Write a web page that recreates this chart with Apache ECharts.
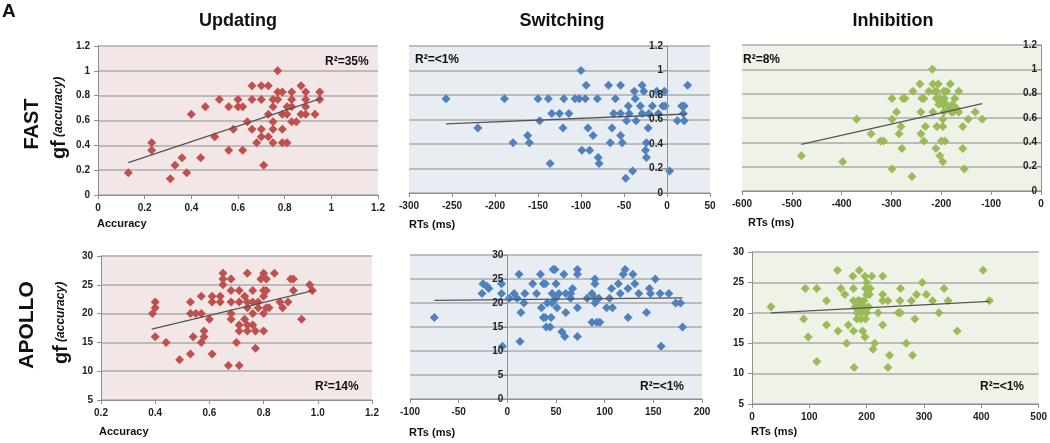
<!DOCTYPE html>
<html><head><meta charset="utf-8">
<script src="https://cdn.jsdelivr.net/npm/echarts@6/dist/echarts.min.js"></script>
<style>html,body{margin:0;padding:0;background:#fff}#c{width:1050px;height:443px}</style>
</head><body><div id="c"></div>
<script>
// ---- Data ----
const panelTitles = ['Updating', 'Switching', 'Inhibition'];
const rowLabels = ['FAST', 'APOLLO'];
const r2Labels = ['R²=35%', 'R²=<1%', 'R²=8%', 'R²=14%', 'R²=<1%', 'R²=<1%'];
const xNames = ['Accuracy', 'RTs (ms)', 'RTs (ms)', 'Accuracy', 'RTs (ms)', 'RTs (ms)'];

const updFast = [[0.13,0.18],[0.23,0.42],[0.23,0.36],[0.31,0.13],[0.33,0.24],[0.36,0.30],[0.38,0.18],[0.40,0.65],[0.44,0.30],[0.46,0.71],[0.50,0.47],[0.52,0.77],[0.56,0.71],[0.56,0.36],[0.58,0.53],[0.60,0.77],[0.60,0.71],[0.62,0.71],[0.62,0.36],[0.64,0.59],[0.66,0.88],[0.66,0.77],[0.66,0.53],[0.68,0.42],[0.70,0.88],[0.70,0.77],[0.70,0.53],[0.70,0.47],[0.71,0.24],[0.73,0.88],[0.73,0.65],[0.73,0.47],[0.75,0.71],[0.75,0.77],[0.75,0.59],[0.75,0.53],[0.75,0.42],[0.77,1.0],[0.77,0.83],[0.77,0.77],[0.79,0.83],[0.79,0.65],[0.79,0.53],[0.79,0.42],[0.81,0.71],[0.81,0.65],[0.81,0.42],[0.83,0.83],[0.83,0.77],[0.83,0.71],[0.83,0.59],[0.85,0.59],[0.87,0.88],[0.87,0.65],[0.89,0.83],[0.89,0.77],[0.89,0.71],[0.89,0.65],[0.93,0.65],[0.95,0.83],[0.95,0.77]];
const swFast = [[-257,0.77],[-220,0.53],[-189,0.77],[-179,0.41],[-162,0.47],[-160,0.41],[-150,0.77],[-148,0.59],[-138,0.77],[-136,0.24],[-134,0.65],[-125,0.65],[-121,0.53],[-120,0.77],[-114,0.65],[-107,0.77],[-102,0.77],[-100,1.0],[-99,0.35],[-95,0.77],[-94,0.88],[-92,0.53],[-90,0.35],[-86,0.47],[-81,0.77],[-80,0.29],[-79,0.24],[-68,0.88],[-66,0.41],[-64,0.53],[-62,0.65],[-60,0.77],[-54,0.88],[-54,0.65],[-54,0.47],[-52,0.41],[-48,0.12],[-47,0.59],[-45,0.71],[-44,0.65],[-40,0.18],[-38,0.83],[-37,0.77],[-36,0.59],[-31,0.71],[-29,0.88],[-29,0.65],[-27,0.83],[-25,0.35],[-24,0.29],[-24,0.41],[-22,0.53],[-21,0.65],[-17,0.71],[-12,0.83],[-10,0.65],[-5,0.71],[-3,0.83],[-2,0.71],[3,0.18],[12,0.59],[17,0.71],[19,0.65],[20,0.59],[20,0.71],[24,0.88]];
const inhFast = [[-481,0.29],[-398,0.24],[-370,0.59],[-341,0.47],[-322,0.41],[-316,0.41],[-299,0.76],[-299,0.59],[-299,0.18],[-290,0.65],[-285,0.47],[-281,0.53],[-279,0.35],[-277,0.76],[-273,0.76],[-259,0.12],[-257,0.82],[-243,0.88],[-241,0.65],[-241,0.47],[-239,0.76],[-235,0.76],[-235,0.41],[-232,0.53],[-218,1.0],[-217,0.88],[-217,0.65],[-225,0.82],[-213,0.82],[-211,0.35],[-209,0.53],[-206,0.88],[-203,0.76],[-203,0.29],[-200,0.41],[-197,0.59],[-197,0.53],[-197,0.24],[-197,0.71],[-194,0.76],[-189,0.82],[-182,0.88],[-178,0.71],[-176,0.65],[-173,0.76],[-165,0.82],[-165,0.65],[-157,0.53],[-157,0.35],[-154,0.18],[-146,0.59],[-132,0.65],[-118,0.59],[-205,0.71],[-190,0.71],[-185,0.68],[-170,0.68],[-195,0.65],[-180,0.65],[-210,0.76],[-195,0.82],[-210,0.82],[-193,0.41]];
const updApollo = [[0.39,20],[0.40,21],[0.40,22],[0.40,16],[0.44,15],[0.49,12],[0.53,22],[0.53,20],[0.53,13],[0.54,16],[0.55,20],[0.57,23],[0.57,20],[0.57,15],[0.58,16],[0.58,17],[0.60,19],[0.61,23],[0.61,22],[0.61,13],[0.64,23],[0.64,22],[0.65,27],[0.65,26],[0.65,25],[0.67,11],[0.68,26],[0.68,24],[0.68,22],[0.68,20],[0.68,19],[0.70,15],[0.71,11],[0.71,24],[0.71,22],[0.71,18],[0.71,17],[0.73,23],[0.73,19],[0.74,22],[0.74,27],[0.74,21],[0.74,18],[0.74,17],[0.76,24],[0.76,22],[0.76,20],[0.76,18],[0.77,17],[0.77,14],[0.78,22],[0.78,21],[0.79,26],[0.80,27],[0.80,24],[0.80,23],[0.80,20],[0.80,17],[0.81,26],[0.81,24],[0.81,21],[0.82,21],[0.84,27],[0.86,22],[0.87,21],[0.89,22],[0.90,26],[0.91,26],[0.91,24],[0.94,19],[0.97,25],[0.98,24]];
const swApollo = [[-75,17],[-26,22],[-25,24],[-21,23.5],[-19,23],[-6,24],[-6,22],[-5,11],[2,21],[7,22],[10,21],[12,26],[13,12],[14,18],[17,20],[18,22],[26,24],[30,22],[34,26],[35,19],[37,17],[37,24],[39,24],[39,17],[40,15],[41,20],[44,15],[45,17],[46,22],[46,20],[47,27],[49,27],[50,24],[50,21],[51,19],[53,22],[56,14],[58,26],[59,13],[60,22],[60,18],[65,22],[65,21],[67,23],[72,27],[72,26],[72,19],[72,13],[82,21],[87,22],[87,16],[90,21],[90,25],[90,24],[90,20],[92,16],[95,16],[94,21],[102,19],[105,21],[107,23],[108,19],[114,24],[116,22],[119,26],[121,27],[124,23],[124,17],[129,26],[131,24],[135,22],[143,18],[146,23],[147,22],[152,25],[157,22],[158,11],[166,22],[173,20],[178,20],[180,15]];
const inhApollo = [[33,21],[90,19],[93,24],[98,16],[113,24],[113,12],[130,22],[130,18],[149,27],[150,17],[155,24],[162,23],[165,15],[168,18],[176,26],[177,24],[177,22],[177,17],[178,11],[187,27],[197,26],[193,17],[197,16],[200,25],[206,24],[209,26],[211,14],[214,15],[220,20],[228,26],[228,23],[228,22],[228,18],[237,22],[237,11],[240,13],[255,20],[258,22],[259,24],[259,20],[269,15],[278,22],[280,13],[284,19],[287,23],[297,25],[304,23],[315,22],[326,20],[335,24],[342,22],[358,17],[403,27],[414,22],[180,21],[183,20],[185,22],[187,21],[190,19],[192,20],[195,22],[198,19],[200,20],[203,21],[205,23],[183,19],[188,22],[195,21],[200,23],[198,24],[190,21.5],[197,20.5]];

const trendLines = [
  [[0.13,0.26],[0.96,0.78]],
  [[-257,0.565],[23,0.645]],
  [[-481,0.383],[-118,0.719]],
  [[0.387,17.3],[0.983,24.0]],
  [[-75,20.55],[180,21.05]],
  [[33,20.0],[414,21.87]]
];
const xRanges = [[0,1.2,0.2],[-300,50,50],[-600,0,100],[0.2,1.2,0.2],[-100,200,50],[0,500,100]];
const yRanges = [[0,1.2,0.2],[0,1.2,0.2],[0,1.2,0.2],[5,30,5],[0,30,5],[5,30,5]];
const seriesData = [updFast, swFast, inhFast, updApollo, swApollo, inhApollo];

// ---- Styling / layout ----
const FONT = '"Liberation Sans", Arial, sans-serif';
const colors = ['#c0504d', '#4f81bd', '#9bbb59', '#c0504d', '#4f81bd', '#9bbb59'];
const bgs = ['#f2e7e6', '#e8edf4', '#eef2e7', '#f2e7e6', '#e8edf4', '#eef2e7'];
const grids = [
  {left:98, top:46, width:280, height:149},
  {left:409, top:46, width:301, height:147},
  {left:742, top:45, width:299, height:146},
  {left:101, top:256, width:271, height:144},
  {left:410, top:255, width:292, height:144},
  {left:752, top:252, width:287, height:152}
];
const yAtZero = [false, true, true, false, true, false];
const fmtX = [v => String(+v.toFixed(1)), v => String(v), v => String(v), v => v.toFixed(1), v => String(v), v => String(v)];
const fmtY = [v => String(+v.toFixed(1)), v => String(+v.toFixed(1)), v => String(+v.toFixed(1)), v => String(v), v => String(v), v => String(v)];

const axisCol = '#8f8f8f';
const lab = {fontSize:10, fontWeight:'bold', color:'#222', fontFamily:FONT};

// offset that puts the y axis at x = 0 (computed from the x range and grid width)
function zeroOffset(i) {
  if (!yAtZero[i]) return 0;
  const [mn, mx] = xRanges[i];
  return -grids[i].width * (0 - mn) / (mx - mn);
}

const yAxes = [];
// primary y axes: gridlines only (drawn behind the markers)
grids.forEach((g, i) => yAxes.push({
  type:'value', gridIndex:i, min:yRanges[i][0], max:yRanges[i][1], interval:yRanges[i][2],
  axisLine:{show:false}, axisTick:{show:false}, axisLabel:{show:false},
  splitLine:{show:true, lineStyle:{color:'#ababab', width:1.5}}
}));
// overlay y axes: line, ticks and labels (drawn above the markers)
grids.forEach((g, i) => yAxes.push({
  type:'value', gridIndex:i, position:'left', offset:zeroOffset(i), z:5,
  min:yRanges[i][0], max:yRanges[i][1], interval:yRanges[i][2],
  axisLine:{show:true, onZero:false, lineStyle:{color:axisCol, width:1}},
  axisTick:{show:true, length:4, lineStyle:{color:axisCol}},
  splitLine:{show:false},
  axisLabel:Object.assign({margin: yAtZero[i] ? 4 : 8, formatter:fmtY[i]}, lab)
}));

const option = {
  animation: false,
  grid: grids.map((g, i) => Object.assign({show:true, backgroundColor:bgs[i], borderWidth:0}, g)),
  xAxis: grids.map((g, i) => ({
    type:'value', gridIndex:i, min:xRanges[i][0], max:xRanges[i][1], interval:xRanges[i][2],
    axisLine:{show:true, onZero:false, lineStyle:{color:axisCol, width:1}},
    axisTick:{show:true, length:4, lineStyle:{color:axisCol}},
    splitLine:{show:false},
    axisLabel:Object.assign({margin:8, formatter:fmtX[i]}, lab)
  })),
  yAxis: yAxes,
  series: []
};
seriesData.forEach((d, i) => {
  option.series.push({type:'scatter', xAxisIndex:i, yAxisIndex:i, data:d, symbol:'diamond', symbolSize:9,
    itemStyle:{color:colors[i], opacity:1}, z:2});
  option.series.push({type:'line', xAxisIndex:i, yAxisIndex:i, data:trendLines[i], showSymbol:false, symbol:'none',
    lineStyle:{color:'#555', width:1.3}, z:3});
});

const txt = (x, y, text, o) => ({type:'text', x, y, style:Object.assign({text, fill:'#111', font:'bold 12px ' + FONT, textAlign:'left', textVerticalAlign:'middle'}, o || {})});
const graphics = [];
graphics.push(txt(2, 12, 'A', {font:'bold 19px ' + FONT}));
const titleX = [238, 562, 893];
panelTitles.forEach((t, i) => graphics.push(txt(titleX[i], 21, t, {font:'bold 18px ' + FONT, textAlign:'center'})));
const r2Pos = [[325,62],[415,60],[743,60],[315,387],[640,387],[980,387]];
r2Labels.forEach((t, i) => graphics.push(txt(r2Pos[i][0], r2Pos[i][1], t, {font:'bold 12px ' + FONT})));
const xNamePos = [[97,224],[409,225],[748,223],[99,432],[409,433],[751,432]];
xNames.forEach((t, i) => graphics.push(txt(xNamePos[i][0], xNamePos[i][1], t, {font:'bold 11px ' + FONT})));
// rotated row labels
const rowPos = [[32,124],[27,325]];
const rowFont = [20, 21];
rowLabels.forEach((t, i) => graphics.push({type:'text', x:rowPos[i][0], y:rowPos[i][1], rotation:Math.PI/2,
  style:{text:t, fill:'#111', font:'bold ' + rowFont[i] + 'px ' + FONT, textAlign:'center', textVerticalAlign:'middle'}}));
const gfPos = [[59,118],[61,323]];
gfPos.forEach(p => graphics.push({type:'text', x:p[0], y:p[1], rotation:Math.PI/2,
  style:{text:'{a|gf} {b|(accuracy)}', textAlign:'center', textVerticalAlign:'middle',
    rich:{a:{font:'bold 20px ' + FONT, fill:'#111'}, b:{font:'italic bold 12px ' + FONT, fill:'#111'}}}}));
option.graphic = graphics;

const chart = echarts.init(document.getElementById('c'), null, {renderer:'canvas'});
chart.setOption(option);
</script></body></html>
